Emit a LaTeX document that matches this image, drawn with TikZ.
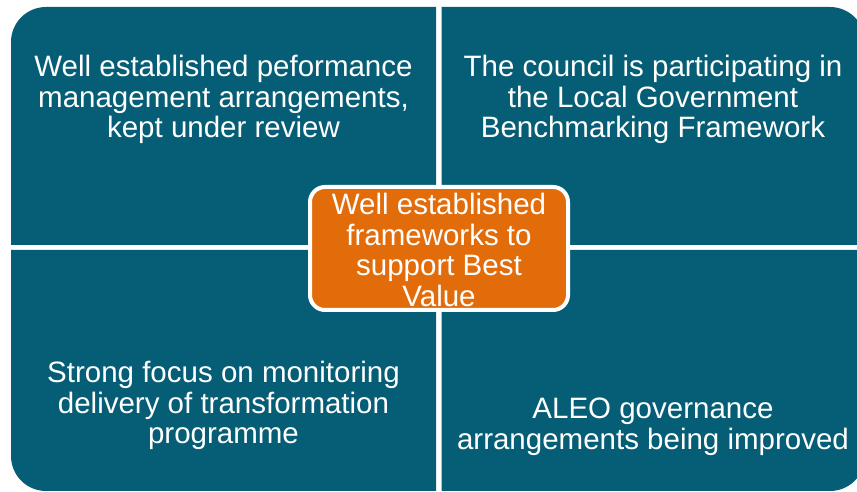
\documentclass[tikz,border=0pt]{standalone}
\usepackage{fontspec}
\setmainfont{Liberation Sans}
\definecolor{quadteal}{RGB}{5,94,117}
\definecolor{hubor}{RGB}{227,108,10}
\tikzset{
  quad/.style={fill=quadteal},
  qtext/.style={text=white, align=center, inner sep=0pt, font=\fontsize{29.5}{30.6}\selectfont},
  hub/.style={fill=hubor, draw=white, line width=4pt, rounded corners=15pt, minimum width=258pt, minimum height=123pt, inner sep=0pt},
}
\begin{document}
\begin{tikzpicture}[x=1pt,y=1pt]
\useasboundingbox (0,0) rectangle (857,492);
\clip (0,0) rectangle (857,492);
% quadrants
\fill[quad] (436,247) -- (11,247) -- (11,450) arc[start angle=180,end angle=90,radius=35] -- (436,485) -- cycle;
\fill[quad] (441.5,247) -- (441.5,485) -- (830,485) arc[start angle=90,end angle=0,radius=35] -- (865,247) -- cycle;
\fill[quad] (436,242) -- (11,242) -- (11,36) arc[start angle=180,end angle=270,radius=35] -- (436,1) -- cycle;
\fill[quad] (441.5,242) -- (441.5,1) -- (830,1) arc[start angle=270,end angle=360,radius=35] -- (865,36) -- (865,242) -- cycle;
% texts
\node[qtext] (tl) at (223.5,392.5) {Well established peformance\\management arrangements,\\kept under review};
\node[qtext] (tr) at (653,392.5) {The council is participating in\\the Local Government\\Benchmarking Framework};
\node[qtext] (bl) at (223.5,86.5) {Strong focus on monitoring\\delivery of transformation\\programme};
\node[qtext] (br) at (653,65.5) {ALEO governance\\arrangements being improved};
% hub
\node[hub] (hubbox) at (439,243.5) {};
\node[qtext] (hubtext) at (439,242) {Well established\\frameworks to\\support Best\\Value};
\end{tikzpicture}
\end{document}
